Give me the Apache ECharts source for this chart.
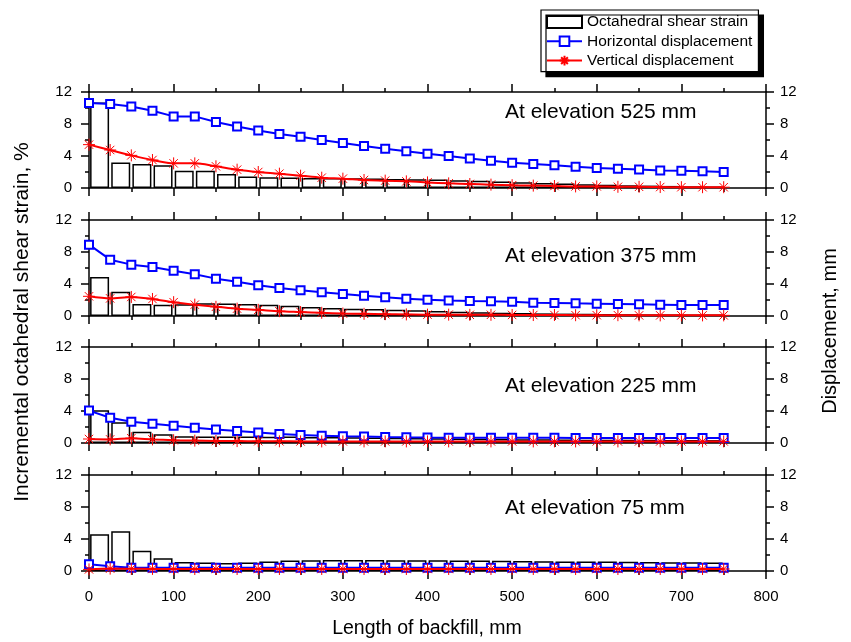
<!DOCTYPE html>
<html><head><meta charset="utf-8">
<script src="https://cdn.jsdelivr.net/npm/echarts@6/dist/echarts.min.js"></script>
<style>html,body{margin:0;padding:0;background:#fff}#c{width:851px;height:642px}</style>
</head><body><div id="c"></div>
<script>
// ---- data ----
const lineX = [0,25,50,75,100,125,150,175,200,225,250,275,300,325,350,375,400,425,450,475,500,525,550,575,600,625,650,675,700,725,750];
const barX = [12.5,37.5,62.5,87.5,112.5,137.5,162.5,187.5,212.5,237.5,262.5,287.5,312.5,337.5,362.5,387.5,412.5,437.5,462.5,487.5,512.5,537.5,562.5,587.5,612.5,637.5,662.5,687.5,712.5,737.5];
const panelLabels = ['At elevation 525 mm','At elevation 375 mm','At elevation 225 mm','At elevation 75 mm'];
const xTicks = [0,100,200,300,400,500,600,700,800];
const yTicks = [0,4,8,12];
const seriesNames = ['Octahedral shear strain','Horizontal displacement','Vertical displacement'];

const strain525 = [10.7,3.2,3.0,2.85,2.15,2.15,1.75,1.45,1.35,1.3,1.25,1.25,1.22,1.18,1.14,1.1,1.06,0.98,0.9,0.8,0.72,0.64,0.55,0.47,0.4,0.34,0.3,0.26,0.21,0.18];
const horiz525 = [10.63,10.5,10.2,9.65,8.95,8.95,8.25,7.7,7.2,6.75,6.4,6.0,5.63,5.25,4.9,4.6,4.27,4.0,3.7,3.42,3.17,3.0,2.83,2.67,2.5,2.42,2.3,2.2,2.15,2.08,2.0];
const vert525 = [5.42,4.75,4.08,3.5,3.08,3.08,2.71,2.29,2.0,1.79,1.54,1.29,1.17,1.0,0.92,0.83,0.7,0.58,0.5,0.42,0.35,0.3,0.25,0.2,0.2,0.15,0.15,0.12,0.1,0.1,0.1];

const strain375 = [4.88,3.04,1.5,1.42,1.46,1.6,1.55,1.5,1.42,1.29,1.13,1.0,0.92,0.88,0.79,0.71,0.63,0.54,0.46,0.42,0.38,0.33,0.3,0.28,0.25,0.23,0.21,0.2,0.18,0.17];
const horiz375 = [8.92,7.04,6.42,6.13,5.67,5.21,4.67,4.29,3.83,3.5,3.21,2.96,2.75,2.54,2.33,2.17,2.04,1.94,1.88,1.83,1.79,1.67,1.63,1.58,1.54,1.5,1.46,1.42,1.38,1.38,1.38];
const vert375 = [2.46,2.2,2.38,2.13,1.73,1.42,1.15,0.92,0.77,0.6,0.5,0.4,0.31,0.27,0.23,0.2,0.17,0.17,0.15,0.15,0.13,0.12,0.12,0.1,0.1,0.1,0.08,0.08,0.08,0.08,0.08];

const strain225 = [4.1,2.6,1.4,1.1,0.85,0.8,0.82,0.8,0.78,0.8,0.76,0.74,0.72,0.7,0.66,0.62,0.6,0.56,0.52,0.5,0.48,0.46,0.44,0.42,0.42,0.4,0.4,0.38,0.38,0.36];
const horiz225 = [4.05,3.15,2.65,2.4,2.15,1.92,1.7,1.5,1.3,1.12,1.0,0.92,0.84,0.8,0.75,0.71,0.68,0.67,0.66,0.66,0.65,0.65,0.65,0.64,0.64,0.64,0.64,0.63,0.63,0.63,0.63];
const vert225 = [0.5,0.45,0.6,0.45,0.35,0.3,0.25,0.24,0.22,0.21,0.2,0.2,0.2,0.2,0.2,0.2,0.2,0.2,0.2,0.2,0.2,0.2,0.2,0.2,0.2,0.2,0.2,0.2,0.2,0.2,0.2];

const strain75 = [4.6,4.97,2.53,1.6,1.14,1.05,1.0,1.05,1.18,1.3,1.35,1.39,1.39,1.39,1.35,1.35,1.35,1.3,1.3,1.28,1.25,1.22,1.2,1.2,1.18,1.15,1.12,1.1,1.08,1.05];
const horiz75 = [0.84,0.6,0.42,0.4,0.4,0.4,0.4,0.4,0.4,0.4,0.4,0.4,0.4,0.4,0.4,0.4,0.4,0.4,0.4,0.4,0.4,0.4,0.4,0.4,0.4,0.4,0.4,0.4,0.4,0.4,0.4];
const vert75 = [0.2,0.3,0.28,0.26,0.25,0.25,0.25,0.25,0.25,0.25,0.25,0.25,0.25,0.25,0.25,0.25,0.25,0.25,0.25,0.25,0.25,0.25,0.25,0.25,0.25,0.25,0.25,0.25,0.25,0.25,0.25];

const strainAll = [strain525, strain375, strain225, strain75];
const horizAll = [horiz525, horiz375, horiz225, horiz75];
const vertAll = [vert525, vert375, vert225, vert75];

// ---- layout ----
const FONT = '"Liberation Sans", Arial, sans-serif';
const gridTops = [92, 220, 347, 475];
const gridH = 96, gridLeft = 89, gridRight = 85;
const labelY = [112, 256, 386, 508];
const asterisk = 'path://M5,0L5,10M0,5L10,5M1.5,1.5L8.5,8.5M8.5,1.5L1.5,8.5';

const lineCol = '#000';
function axisCommon(showLabel, margin) {
  return {
    axisLine: {show: true, onZero: false, lineStyle: {color: lineCol, width: 1.5}},
    axisTick: {show: true, inside: false, length: 8, lineStyle: {color: lineCol, width: 1.5}},
    minorTick: {show: true, splitNumber: 2, length: 4, lineStyle: {color: lineCol, width: 1.5}},
    splitLine: {show: false},
    minorSplitLine: {show: false},
    axisLabel: {show: showLabel, margin: margin, fontSize: 15, color: '#000', fontFamily: FONT}
  };
}

const grid = [], xAxis = [], yAxis = [], series = [], graphic = [];
for (let i = 0; i < 4; i++) {
  grid.push({left: gridLeft, right: gridRight, top: gridTops[i], height: gridH, containLabel: false});
  xAxis.push(Object.assign({gridIndex: i, type: 'value', min: xTicks[0], max: xTicks[xTicks.length-1], interval: 100, position: 'bottom'}, axisCommon(i === 3, 18)));
  xAxis.push(Object.assign({gridIndex: i, type: 'value', min: xTicks[0], max: xTicks[xTicks.length-1], interval: 100, position: 'top'}, axisCommon(false, 8)));
  yAxis.push(Object.assign({gridIndex: i, type: 'value', min: yTicks[0], max: yTicks[yTicks.length-1], interval: 4, position: 'left'}, axisCommon(true, 17)));
  yAxis.push(Object.assign({gridIndex: i, type: 'value', min: yTicks[0], max: yTicks[yTicks.length-1], interval: 4, position: 'right'}, axisCommon(true, 14)));

  series.push({
    name: seriesNames[0], type: 'bar', xAxisIndex: 2*i, yAxisIndex: 2*i, barWidth: 19,
    data: barX.map((x, k) => [x, strainAll[i][k]]),
    itemStyle: {color: 'rgba(255,255,255,0)', borderColor: '#000', borderWidth: 1.5},
    z: 1
  });
  series.push({
    name: seriesNames[1], type: 'line', xAxisIndex: 2*i, yAxisIndex: 2*i+1,
    data: lineX.map((x, k) => [x, horizAll[i][k]]),
    symbol: 'emptyRect', symbolSize: 8, showAllSymbol: true,
    lineStyle: {color: '#0000ff', width: 2},
    itemStyle: {color: '#0000ff', borderColor: '#0000ff', borderWidth: 1},
    z: 3
  });
  series.push({
    name: seriesNames[2], type: 'line', xAxisIndex: 2*i, yAxisIndex: 2*i+1,
    data: lineX.map((x, k) => [x, vertAll[i][k]]),
    symbol: asterisk, symbolSize: 12, showAllSymbol: true, smooth: 0.3,
    lineStyle: {color: '#ff0000', width: 2},
    itemStyle: {color: '#ff0000', borderColor: '#ff0000', borderWidth: 1},
    z: 4
  });
  graphic.push({type: 'text', x: 505, y: labelY[i], style: {text: panelLabels[i], font: '21px ' + FONT, fill: '#000', textAlign: 'left', textVerticalAlign: 'middle'}});
}
graphic.push({type: 'text', x: 22, y: 322, rotation: Math.PI/2, style: {text: 'Incremental octahedral shear strain, %', font: '21px ' + FONT, fill: '#000', textAlign: 'center', textVerticalAlign: 'middle'}});
graphic.push({type: 'text', x: 830, y: 331, rotation: Math.PI/2, style: {text: 'Displacement, mm', font: '20px ' + FONT, fill: '#000', textAlign: 'center', textVerticalAlign: 'middle'}});
graphic.push({type: 'text', x: 427, y: 629, style: {text: 'Length of backfill, mm', font: '19.5px ' + FONT, fill: '#000', textAlign: 'center', textVerticalAlign: 'middle'}});

const chart = echarts.init(document.getElementById('c'), null, {renderer: 'canvas'});
chart.setOption({
  animation: false,
  backgroundColor: '#fff',
  grid, xAxis, yAxis, series, graphic,
  legend: {
    orient: 'vertical', left: 541, top: 10,
    data: [{name: seriesNames[0], icon: 'rect'}, {name: seriesNames[1]}, {name: seriesNames[2]}],
    itemWidth: 35, itemHeight: 12, itemGap: 3.3, itemTextGap: 6,
    padding: [4, 6, 3, 5],
    backgroundColor: '#fff', borderColor: '#000', borderWidth: 1.2,
    shadowColor: '#000', shadowBlur: 0, shadowOffsetX: 5, shadowOffsetY: 5,
    selectedMode: false,
    textStyle: {fontSize: 15.5, color: '#000', fontFamily: FONT, lineHeight: 16}
  }
});
</script>
</body></html>
